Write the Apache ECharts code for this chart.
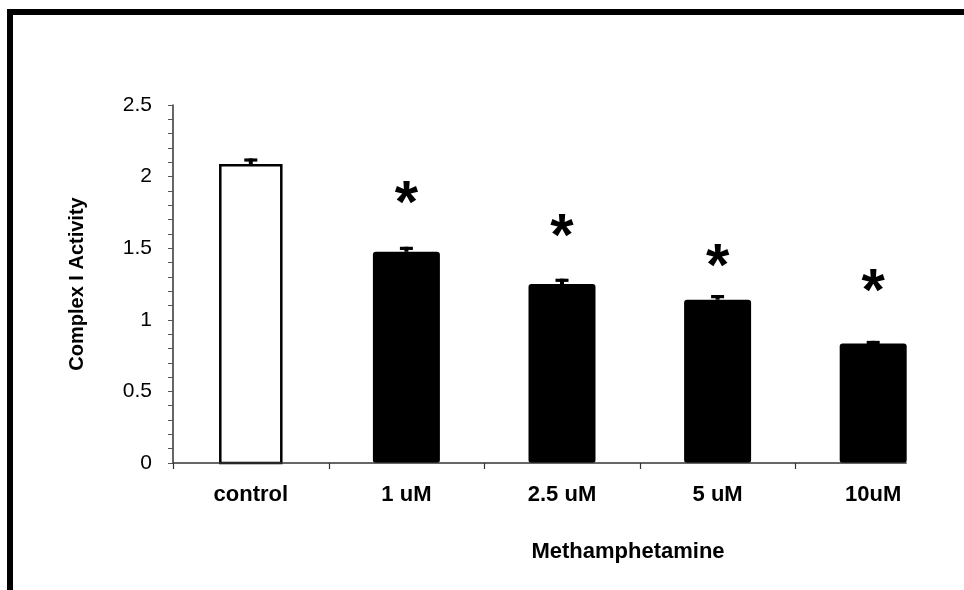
<!DOCTYPE html>
<html>
<head>
<meta charset="utf-8">
<script src="https://cdn.jsdelivr.net/npm/echarts@6/dist/echarts.min.js"></script>
<style>
  html, body { margin: 0; padding: 0; background: #fff; }
  #chart { width: 964px; height: 590px; }
</style>
</head>
<body>
<div id="chart"></div>
<script>
// Complex I activity after methamphetamine exposure (mean ± SEM)
const categories = ['control', '1 uM', '2.5 uM', '5 uM', '10uM'];
const activity = [2.08, 1.475, 1.25, 1.14, 0.835];
const sem = [0.047, 0.035, 0.037, 0.033, 0.018];
// height (in activity units) at which each significance star sits
const starLevel = [null, 1.885, 1.65, 1.44, 1.266];

const FONT = '"Liberation Sans", Arial, sans-serif';
const CONTROL_W = 61;
const TREAT_W = 67;

const barData = activity.map((v, i) => [i, v]);
const errData = activity.map((v, i) => [i, v, sem[i]]);
const starData = starLevel.map((v, i) => (v == null ? null : [i, v])).filter(Boolean);

const chart = echarts.init(document.getElementById('chart'), null, { renderer: 'canvas' });

function renderBar(params, api) {
  const i = api.value(0);
  const top = api.coord([i, api.value(1)]);
  const base = api.coord([i, 0]);
  const isControl = i === 0;
  const w = isControl ? CONTROL_W : TREAT_W;
  return {
    type: 'rect',
    shape: { x: top[0] - w / 2, y: top[1], width: w, height: base[1] - top[1], r: isControl ? 0 : 3 },
    style: isControl
      ? { fill: '#fff', stroke: '#000', lineWidth: 2.5 }
      : { fill: '#000', stroke: null }
  };
}

function renderErr(params, api) {
  const i = api.value(0);
  const v = api.value(1);
  const e = api.value(2);
  const top = api.coord([i, v + e]);
  const bar = api.coord([i, v]);
  return {
    type: 'group',
    children: [
      { type: 'rect', shape: { x: top[0] - 2, y: top[1], width: 4, height: bar[1] - top[1] }, style: { fill: '#000' } },
      { type: 'rect', shape: { x: top[0] - 6.5, y: top[1], width: 13, height: 3.2 }, style: { fill: '#000' } }
    ]
  };
}

const STAR_SIZE = 60;
function renderStar(params, api) {
  const p = api.coord([api.value(0), api.value(1)]);
  return {
    type: 'text',
    style: {
      text: '*',
      x: p[0],
      y: p[1] + STAR_SIZE * 0.2,
      align: 'center',
      verticalAlign: 'middle',
      font: 'bold ' + STAR_SIZE + 'px ' + FONT,
      fill: '#000'
    }
  };
}

const option = {
  animation: false,
  backgroundColor: '#fff',
  grid: { left: 173, right: 13, top: 105, bottom: 127 },
  xAxis: {
    type: 'category',
    data: categories,
    axisLine: { show: false },
    axisTick: { show: false },
    axisLabel: { margin: 21, fontSize: 22, fontWeight: 'bold', color: '#000', fontFamily: FONT }
  },
  yAxis: {
    type: 'value',
    min: 0,
    max: 2.5,
    interval: 0.5,
    axisLine: { show: true, lineStyle: { color: '#333', width: 1.5 } },
    axisTick: { show: true, length: 5, lineStyle: { color: '#555', width: 1 } },
    minorTick: { show: true, splitNumber: 5, length: 5, lineStyle: { color: '#555', width: 1 } },
    splitLine: { show: false },
    axisLabel: { margin: 21, fontSize: 21, color: '#000', fontFamily: FONT },
    name: 'Complex I Activity',
    nameLocation: 'middle',
    nameRotate: 90,
    nameGap: 86,
    nameTextStyle: { fontSize: 20, fontWeight: 'bold', color: '#000', fontFamily: FONT }
  },
  series: [
    { type: 'custom', name: 'activity', renderItem: renderBar, data: barData, encode: { x: 0, y: 1 }, z: 2 },
    { type: 'custom', name: 'sem', renderItem: renderErr, data: errData, encode: { x: 0, y: [1, 2] }, z: 1 },
    { type: 'custom', name: 'significance', renderItem: renderStar, data: starData, encode: { x: 0, y: 1 }, z: 3 }
  ],
  graphic: [
    // frame along the top and left edges
    { id: 'frameTop', type: 'rect', shape: { x: 7, y: 9, width: 957, height: 6 }, style: { fill: '#000' } },
    { id: 'frameLeft', type: 'rect', shape: { x: 7, y: 9, width: 6, height: 581 }, style: { fill: '#000' } },
    {
      id: 'xTitle', type: 'text',
      style: { text: 'Methamphetamine', x: 628, y: 552, align: 'center', verticalAlign: 'middle',
               font: 'bold 22px ' + FONT, fill: '#000' }
    }
  ]
};

chart.setOption(option);

// Category axis baseline and boundary ticks, placed from the axis scale
const y0 = chart.convertToPixel({ yAxisIndex: 0 }, 0);
const c0 = chart.convertToPixel({ xAxisIndex: 0 }, categories[0]);
const c1 = chart.convertToPixel({ xAxisIndex: 0 }, categories[1]);
const band = c1 - c0;
const last = chart.convertToPixel({ xAxisIndex: 0 }, categories[categories.length - 1]);
const left = c0 - band / 2;
const axisEls = [{
  id: 'xLine', type: 'line', z: 5,
  shape: { x1: left, y1: y0, x2: last + TREAT_W / 2, y2: y0 },
  style: { stroke: '#333', lineWidth: 1.5 }
}];
categories.forEach((c, k) => {
  const x = Math.round(left + k * band) + 0.5;
  axisEls.push({
    id: 'xTick' + k, type: 'line', z: 5,
    shape: { x1: x, y1: y0, x2: x, y2: y0 + 6 },
    style: { stroke: '#333', lineWidth: 1.2 }
  });
});
chart.setOption({ graphic: axisEls });
</script>
</body>
</html>
